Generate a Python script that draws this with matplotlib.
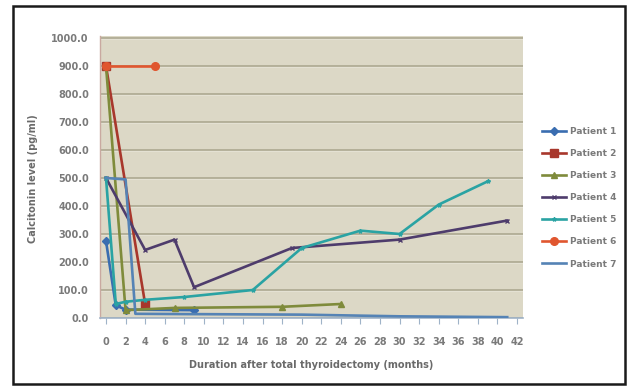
import matplotlib
matplotlib.use("Agg")
import matplotlib.pyplot as plt
from matplotlib.patches import Rectangle

# ---- data ----
p1_x = [0, 1, 2, 9]
p1_y = [275, 45, 30, 28]
p2_x = [0, 4]
p2_y = [900, 50]
p3_x = [0, 2, 7, 18, 24]
p3_y = [900, 28, 36, 40, 50]
p4_x = [0, 4, 7, 9, 19, 30, 41]
p4_y = [500, 243, 280, 110, 250, 280, 348]
p5_x = [0, 1, 2, 4, 8, 15, 20, 26, 30, 34, 39]
p5_y = [500, 50, 58, 65, 75, 100, 250, 312, 300, 405, 488]
p6_x = [0, 5]
p6_y = [900, 900]
p7_x = [0, 2, 3, 8, 20, 30, 41]
p7_y = [500, 495, 15, 14, 12, 6, 3]

series_names = ["Patient 1", "Patient 2", "Patient 3", "Patient 4",
                "Patient 5", "Patient 6", "Patient 7"]
xticks = list(range(0, 43, 2))
yticks = list(range(0, 1001, 100))

W, H = 636, 391
fig = plt.figure(figsize=(W / 100, H / 100), dpi=100)
fig.patch.set_facecolor("white")

# outer frame
fig.add_artist(Rectangle((13 / W, 1 - 384 / H), 612 / W, 378 / H,
                         transform=fig.transFigure, fill=False,
                         edgecolor="#1a1a1a", linewidth=1.8))

left, right = 100, 523
top, bottom = 35.5, 318
ax = fig.add_axes([left / W, 1 - bottom / H, (right - left) / W, (bottom - top) / H])
ax.set_facecolor("#DCD8C6")

ppm = (517 - 106) / 42.0
ax.set_xlim(-(106 - left) / ppm, 42 + (right - 517) / ppm)
ax.set_ylim(0, 1000 * (bottom - top) / (bottom - 38))

for v in yticks:
    ax.axhline(v, color="#B3AF98", linewidth=1.4, zorder=1)
    ax.axhline(v - 4, color="#E4E1D3", linewidth=0.8, zorder=1)

lw = 1.9
series = [
    (p1_x, p1_y, "#3A6DB0", "D", 4),
    (p2_x, p2_y, "#A8372C", "s", 5.5),
    (p3_x, p3_y, "#7F8B3B", "^", 5),
    (p4_x, p4_y, "#4E3C6C", "x", 3),
    (p5_x, p5_y, "#2AA3A3", "*", 3),
    (p6_x, p6_y, "#E0562F", "o", 5.5),
    (p7_x, p7_y, "#5583B5", "", 0),
]
order = [6, 4, 3, 2, 0, 1, 5]
handles = [None] * 7
for i in order:
    xs, ys, c, m, ms = series[i]
    (h,) = ax.plot(xs, ys, color=c, linewidth=lw, marker=m if m else None,
                   markersize=ms, markeredgecolor=c, markerfacecolor=c,
                   label=series_names[i], zorder=3 + i * 0.1)
    handles[i] = h

for s in ["top", "right"]:
    ax.spines[s].set_visible(False)
ax.spines["left"].set_color("#C9A9A0")
ax.spines["left"].set_linewidth(1.0)
ax.spines["bottom"].set_color("#9FB3C8")
ax.spines["bottom"].set_linewidth(1.2)

ax.set_xticks(xticks)
ax.set_xticklabels([str(t) for t in xticks])
ax.set_yticks(yticks)
ax.set_yticklabels([f"{t:.1f}" for t in yticks])

ax.tick_params(axis="x", length=4, color="#9FB3C8", pad=10, labelsize=7,
               labelcolor="#7A7A7A")
ax.tick_params(axis="y", length=0, pad=8, labelsize=7, labelcolor="#7A7A7A")
for lab in ax.get_xticklabels() + ax.get_yticklabels():
    lab.set_fontweight("bold")

fig.text(33 / W, 1 - 179 / H, "Calcitonin level (pg/ml)", rotation=90,
         ha="center", va="center", fontsize=7, color="#6A6A6A",
         fontweight="bold")
fig.text(311 / W, 1 - 365 / H, "Duration after total thyroidectomy (months)",
         ha="center", va="center", fontsize=7, color="#6A6A6A",
         fontweight="bold")

leg = fig.legend(handles=handles, labels=series_names, loc="upper left",
                 bbox_to_anchor=(542 / W, 1 - 127 / H), frameon=False,
                 fontsize=6.5, labelspacing=1.45, handlelength=2.7,
                 handletextpad=0.4, borderpad=0, borderaxespad=0)
for t in leg.get_texts():
    t.set_color("#7A7A7A")
    t.set_fontweight("bold")

fig.savefig("out.png", dpi=100, facecolor="white")
